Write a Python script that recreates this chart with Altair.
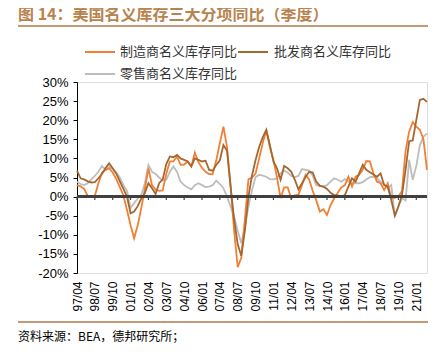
import altair as alt
import pandas as pd

# Quarterly categories 1997/04 ... 2021/10
quarters = []
y, m = 1997, 4
for _ in range(99):
    quarters.append(f"{y % 100:02d}/{m:02d}")
    m += 3
    if m > 12:
        m -= 12
        y += 1

tick_labels = ["97/04", "98/07", "99/10", "01/01", "02/04", "03/07", "04/10", "06/01",
               "07/04", "08/07", "09/10", "11/01", "12/04", "13/07", "14/10", "16/01",
               "17/04", "18/07", "19/10", "21/01"]

manufacturing = [3.0, 2.7, 2.0, 0.2, 0.0, 0.2, 3.5, 6.3, 7.0, 7.4,
                 6.3, 4.6, 2.5, 0.3, -3.5, -7.5, -10.9, -7.5, -3.0, 2.0,
                 7.4, 3.0, 1.8, 1.5, 1.6, 6.0, 9.2, 9.2, 10.5, 8.3,
                 8.4, 9.2, 7.9, 11.5, 9.0, 7.5, 6.5, 5.9, 5.9, 9.5,
                 14.0, 18.3, 13.0, 3.0, -9.0, -18.5, -16.0, -6.0, 4.5, 5.0,
                 6.0, 10.0, 14.0, 17.3, 13.0, 9.6, 5.0, -0.4, 2.4, 2.4,
                 -0.5, 0.3, 0.5, 3.0, 5.7, 4.5, 1.5, -1.0, -3.9, -3.3,
                 -4.8, -2.2, -0.5, 1.0, 2.4, 3.0, 5.2, 2.6, 5.2, 5.7,
                 7.0, 9.3, 9.2, 6.1, 3.9, 3.5, 1.7, 3.5, -0.4, -0.3,
                 0.0, 1.5, 12.0, 17.0, 19.5, 18.3, 17.5, 15.0, 7.0]

wholesale = [6.8, 4.8, 4.5, 4.0, 3.7, 3.8, 4.8, 5.9, 7.5, 8.7,
             7.4, 6.0, 4.0, 2.0, 0.0, -4.4, -3.9, -2.5, -0.5, 0.9,
             3.5, 2.2, 0.7, 3.5, 4.5, 8.5, 10.5, 10.3, 10.9, 10.0,
             9.6, 9.2, 7.9, 10.0, 9.6, 9.2, 9.4, 7.0, 6.8, 8.3,
             9.5, 13.5, 12.0, 2.6, -6.0, -12.5, -15.5, -9.0, 0.0, 5.5,
             9.6, 13.0, 15.5, 17.5, 13.5, 9.2, 7.4, 4.4, 8.0, 7.4,
             6.5, 4.4, 1.9, 3.5, 5.1, 6.5, 6.3, 3.9, 2.8, 2.6,
             2.0, 1.0, 0.4, 0.3, 0.0, 0.4, 2.6, 4.8, 3.9, 6.1,
             8.3, 7.0, 6.4, 5.8, 5.2, 6.1, 3.0, 2.6, -0.9, -5.0,
             -2.6, 0.5, 7.0, 14.5, 14.7, 20.0, 25.3, 25.6, 24.8]

retail = [3.9, 3.3, 3.0, 3.5, 4.5, 5.4, 6.5, 8.0, 7.0, 7.8,
          7.2, 6.3, 5.0, 3.0, 1.5, -3.0, -1.7, -0.5, 0.5, 3.5,
          8.3, 6.5, 5.9, 5.0, 4.2, 4.4, 6.5, 7.9, 6.5, 3.9,
          3.0, 2.4, 1.9, 3.0, 3.5, 3.0, 2.5, 2.6, 3.0, 4.2,
          3.3, 2.2, 0.0, -2.6, -5.2, -9.0, -12.2, -8.0, -2.6, 1.7,
          5.1, 5.7, 5.5, 5.2, 4.6, 4.5, 4.8, 6.1, 6.8, 6.3,
          5.4, 5.1, 5.4, 7.2, 7.0, 6.8, 5.5, 3.0, 2.8, 2.6,
          3.0, 3.9, 4.8, 4.4, 3.9, 4.6, 3.9, 3.5, 3.5, 3.5,
          3.8, 4.5, 5.1, 5.2, 4.8, 3.9, 3.2, 2.2, 3.0, -5.2,
          -2.5, -0.5, -1.0, 9.6, 4.4, 8.0, 13.5, 15.7, 16.5]

series_names = ["制造商名义库存同比", "批发商名义库存同比", "零售商名义库存同比"]
colors = ["#F28034", "#A5672F", "#BDBDBD"]

df = pd.DataFrame({"q": quarters, "m": manufacturing, "w": wholesale, "r": retail})

W, H = 350, 191
FONT = "Liberation Sans"
CJK = "Noto Sans CJK SC"

x_scale = alt.Scale(type="point", padding=0, domain=quarters)
x_axis = alt.Axis(values=tick_labels, labelAngle=-90, labelFontSize=12,
                  labelFont=FONT, labelColor="#000000", ticks=False,
                  domain=False, labelPadding=8, title=None, grid=False)
y_scale = alt.Scale(domain=[-20, 30], nice=False, zero=False)
y_axis = alt.Axis(values=[-20, -15, -10, -5, 0, 5, 10, 15, 20, 25, 30],
                  labelExpr="datum.value + '%'", labelFontSize=13, labelFont=FONT,
                  labelColor="#000000", tickSize=4, tickColor="#000000",
                  domainColor="#000000", domainWidth=1, tickWidth=1,
                  labelPadding=5, title=None, grid=False)

base = alt.Chart(df)

def line(field, color):
    return base.mark_line(color=color, strokeWidth=1.8).encode(
        x=alt.X("q:O", scale=x_scale, axis=x_axis),
        y=alt.Y(f"{field}:Q", scale=y_scale, axis=y_axis))

gray = line("r", colors[2])
orange = line("m", colors[0])
brown = line("w", colors[1])

ticks_df = pd.DataFrame({"q": tick_labels, "y0": [0] * len(tick_labels),
                         "y1": [-0.9] * len(tick_labels)})
tick_marks = alt.Chart(ticks_df).mark_rule(color="#404040", strokeWidth=1.2).encode(
    x=alt.X("q:O", scale=x_scale, axis=x_axis),
    y=alt.Y("y0:Q", scale=y_scale, axis=y_axis), y2="y1:Q")

zero_line = alt.Chart(ticks_df).mark_rule(color="#404040", strokeWidth=1.5).encode(
    x=alt.value(0), x2=alt.value(W), y=alt.Y("y0:Q", scale=y_scale, axis=y_axis))

one = pd.DataFrame({"a": [0]})

def hrule(x1, x2, yv, color, width):
    return alt.Chart(one).mark_rule(color=color, strokeWidth=width).encode(
        x=alt.value(x1), x2=alt.value(x2), y=alt.value(yv))

def label(txt, xv, yv, size, color, font, weight="normal"):
    return alt.Chart(pd.DataFrame({"t": [txt]})).mark_text(
        align="left", baseline="middle", fontSize=size, color=color, font=font,
        fontWeight=weight).encode(text="t:N", x=alt.value(xv), y=alt.value(yv))

title = label("图 14：美国名义库存三大分项同比（季度）", -59, -67, 16, "#B8834F", CJK, "bold")
title_rule = hrule(-59, 351, -56, "#B07A4A", 1.5)
bottom_rule = hrule(-59, 351, 240, "#B07A4A", 1.5)
source = label("资料来源：BEA，德邦研究所；", -59, 255, 12, "#000000", CJK)

leg = [
    hrule(8, 38, -30, colors[0], 2), label(series_names[0], 43, -30, 13, "#333333", CJK),
    hrule(161, 191, -30, colors[1], 2), label(series_names[1], 197, -30, 13, "#333333", CJK),
    hrule(8, 38, -8, colors[2], 2), label(series_names[2], 43, -8, 13, "#333333", CJK),
]

chart = alt.layer(gray, orange, brown, zero_line, tick_marks,
                  title, title_rule, bottom_rule, source, *leg).properties(
    width=W, height=H,
    autosize=alt.AutoSizeParams(type="none"),
    padding={"left": 69, "top": 74, "right": 10, "bottom": 80},
).configure_view(stroke=None).configure(background="#ffffff")

chart.save("out.html", embed_options={"renderer": "svg", "actions": False})
